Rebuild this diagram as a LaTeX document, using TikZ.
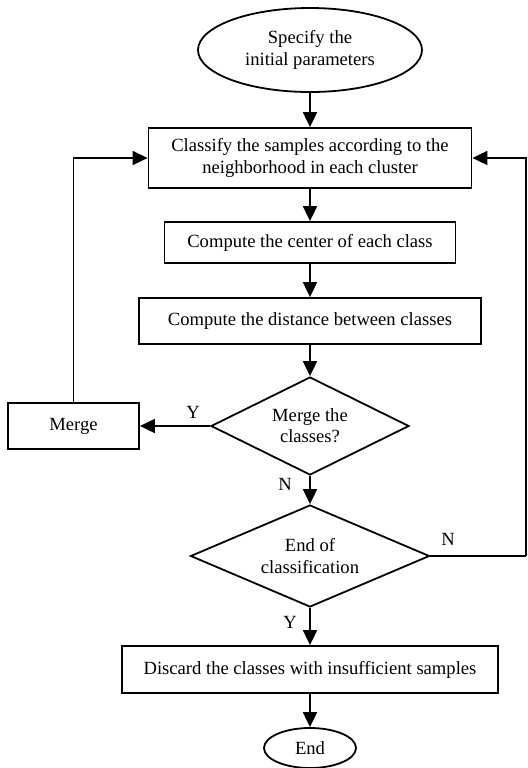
\documentclass[tikz,border=0pt]{standalone}
\usepackage{fontspec}
\setmainfont{Liberation Serif}
\usetikzlibrary{
    arrows.meta,
    shapes.geometric,
    positioning
}
\tikzset{fcbox/.style={draw=black, line width=0.9pt, rectangle, inner sep=0pt, align=center,
    font=\fontsize{9.3pt}{10.6pt}\selectfont}}
\tikzset{fcterm/.style={draw=black, line width=0.9pt, ellipse, inner sep=0pt, align=center,
    font=\fontsize{9.3pt}{10.6pt}\selectfont}}
\tikzset{fcdec/.style={draw=black, line width=0.9pt, diamond, aspect=2, inner sep=0pt, align=center,
    font=\fontsize{9.3pt}{10.6pt}\selectfont}}
\tikzset{fcarr/.style={line width=0.9pt, -{Triangle[length=7.5pt,width=7pt]}}}
\tikzset{fclbl/.style={inner sep=0pt, font=\fontsize{9.3pt}{10.6pt}\selectfont}}

\begin{document}
\begin{tikzpicture}[x=0.5pt, y=-0.5pt]
                        \useasboundingbox (0, 0) rectangle (528, 768);
                        % flow of the clustering steps, pixel grid of the figure
                        \node[fcterm, minimum width=112pt, minimum height=42pt] (start) at (310, 50) {Specify the\\initial parameters};
                        \node[fcbox, minimum width=161.5pt, minimum height=30pt] (classify) at (310, 158) {Classify the samples according to the\\neighborhood in each cluster};
                        \node[fcbox, minimum width=145.5pt, minimum height=20.5pt] (center) at (310, 242.5) {Compute the center of each class};
                        \node[fcbox, minimum width=171pt, minimum height=23pt] (dist) at (310, 321) {Compute the distance between classes};
                        \node[fcdec, minimum width=99pt, minimum height=49pt] (mergeq) at (310, 426) {Merge the\\classes?};
                        \node[fcbox, minimum width=65.5pt, minimum height=23pt] (merge) at (73.5, 426) {Merge};
                        \node[fcdec, minimum width=119.5pt, minimum height=51pt] (endq) at (310, 556) {End of\\classification};
                        \node[fcbox, minimum width=188pt, minimum height=23.5pt] (discard) at (310, 669.5) {Discard the classes with insufficient samples};
                        \node[fcterm, minimum width=46pt, minimum height=20pt] (stop) at (310, 748) {End};
                        \coordinate (back) at (526, 556);

                        \node[fclbl] (ymerge) at (193, 412) {Y};
                        \node[fclbl] (nmerge) at (285, 484) {N};
                        \node[fclbl] (nend) at (448, 539) {N};
                        \node[fclbl] (yend) at (290, 622) {Y};

                        \draw[fcarr] (start) -- (classify);
                        \draw[fcarr] (classify) -- (center);
                        \draw[fcarr] (center) -- (dist);
                        \draw[fcarr] (dist) -- (mergeq);
                        \draw[fcarr] (mergeq.west) -- (merge.east);
                        \draw[fcarr] (merge.north) |- (classify.west);
                        \draw[fcarr] (mergeq.south) -- (endq.north);
                        \draw[line width=0.9pt] (endq.east) -- (back);
                        \draw[fcarr] (back) |- (classify.east);
                        \draw[fcarr] (endq.south) -- (discard.north);
                        \draw[fcarr] (discard) -- (stop);
                    \end{tikzpicture}
\end{document}
